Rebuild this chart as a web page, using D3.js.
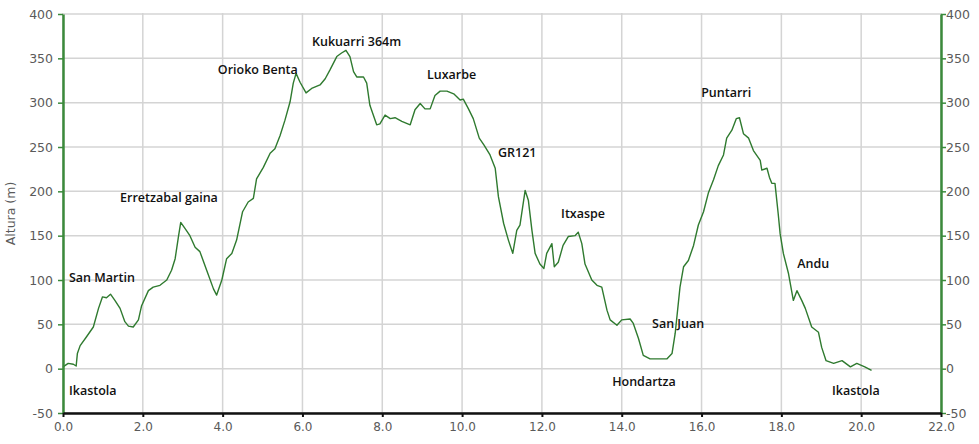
<!DOCTYPE html>
<html>
<head>
<meta charset="utf-8">
<script src="https://cdn.jsdelivr.net/npm/d3@7/dist/d3.min.js"></script>
<style>
  html, body { margin: 0; padding: 0; background: #fff; }
  svg { display: block; }
</style>
</head>
<body>
<svg id="chart" width="979" height="444"></svg>
<script>
// ---- Data ----
const distanceKm = [0, 0.13, 0.26, 0.33, 0.36, 0.43, 0.59, 0.76, 0.89, 0.99, 1.09, 1.19, 1.30, 1.43, 1.55, 1.64, 1.76, 1.89, 1.97, 2.14, 2.26, 2.43, 2.60, 2.72, 2.81, 2.89, 2.95, 3.06, 3.18, 3.31, 3.43, 3.60, 3.77, 3.85, 3.98, 4.10, 4.23, 4.35, 4.50, 4.64, 4.77, 4.85, 5.02, 5.19, 5.31, 5.44, 5.56, 5.69, 5.77, 5.84, 5.94, 6.09, 6.23, 6.44, 6.57, 6.69, 6.86, 6.98, 7.09, 7.19, 7.28, 7.36, 7.53, 7.61, 7.69, 7.86, 7.94, 8.07, 8.20, 8.32, 8.49, 8.70, 8.82, 8.95, 9.07, 9.20, 9.32, 9.45, 9.62, 9.79, 9.95, 10.03, 10.16, 10.28, 10.43, 10.55, 10.70, 10.83, 10.91, 11.04, 11.16, 11.27, 11.37, 11.45, 11.58, 11.66, 11.75, 11.83, 11.95, 12.05, 12.12, 12.25, 12.31, 12.41, 12.53, 12.66, 12.83, 12.91, 13.00, 13.08, 13.25, 13.38, 13.50, 13.63, 13.71, 13.88, 14.00, 14.21, 14.29, 14.42, 14.54, 14.71, 15.13, 15.26, 15.34, 15.46, 15.55, 15.67, 15.80, 15.92, 16.05, 16.17, 16.30, 16.42, 16.55, 16.63, 16.76, 16.87, 16.95, 17.05, 17.18, 17.30, 17.47, 17.51, 17.64, 17.70, 17.76, 17.84, 17.92, 17.97, 18.05, 18.18, 18.30, 18.39, 18.51, 18.60, 18.76, 18.93, 19.01, 19.12, 19.31, 19.52, 19.73, 19.89, 20.09, 20.26];
const altitudeM = [2, 6, 5, 3, 17, 26, 36, 47, 68, 81, 80, 84, 77, 68, 53, 48, 47, 55, 71, 88, 92, 94, 100, 111, 124, 148, 165, 158, 150, 137, 132, 111, 90, 83, 100, 124, 130, 145, 177, 188, 192, 214, 227, 243, 248, 263, 280, 301, 322, 333, 323, 311, 316, 320, 327, 337, 352, 356, 359, 352, 335, 329, 329, 322, 297, 275, 276, 286, 282, 283, 279, 275, 292, 299, 293, 293, 308, 313, 313, 310, 303, 304, 293, 282, 260, 252, 241, 226, 194, 164, 145, 130, 156, 162, 201, 190, 156, 130, 118, 113, 130, 141, 115, 120, 139, 149, 150, 154, 141, 118, 100, 94, 92, 66, 55, 49, 55, 56, 51, 34, 15, 11, 11, 17, 40, 92, 115, 122, 139, 162, 177, 198, 213, 229, 241, 260, 269, 282, 283, 265, 260, 246, 235, 224, 226, 216, 209, 209, 175, 152, 130, 107, 77, 88, 77, 68, 47, 41, 24, 9, 6, 9, 2, 6, 2, -2];

const xTicks = [0, 2, 4, 6, 8, 10, 12, 14, 16, 18, 20, 22];
const yTicks = [-50, 0, 50, 100, 150, 200, 250, 300, 350, 400];

const placeNames = ["Ikastola", "San Martin", "Erretzabal gaina", "Orioko Benta", "Kukuarri 364m", "Luxarbe", "GR121", "Itxaspe", "Hondartza", "San Juan", "Puntarri", "Andu", "Ikastola"];
const placeKm =    [0.15, 0.15, 1.43, 3.88, 6.24, 9.12, 10.90, 12.48, 13.76, 14.76, 15.99, 18.40, 19.27];
const placeAlt =   [-24.5, 103, 193, 337, 369, 332, 244, 175, -15, 51, 311, 119, -24.5];

const yTitle = "Altura (m)";

// ---- Chart ----
const svg = d3.select("#chart");
const mLeft = 63, mRight = 941, mTop = 14, mBottom = 413;

const x = d3.scaleLinear().domain([0, 22]).range([mLeft, mRight]);
const y = d3.scaleLinear().domain([-50, 400]).range([mBottom, mTop]);

const gridColor = "#d4d4d4";
const axisGreen = "#3b8a3b";
const labelColor = "#5a5a5a";
const yFmt = d => String(d);

// grid
svg.append("g").selectAll("line").data(yTicks).join("line")
  .attr("x1", mLeft).attr("x2", mRight)
  .attr("y1", d => y(d)).attr("y2", d => y(d))
  .attr("stroke", gridColor).attr("stroke-width", 1.5);
svg.append("g").selectAll("line").data(xTicks).join("line")
  .attr("x1", d => x(d)).attr("x2", d => x(d))
  .attr("y1", mTop - 1).attr("y2", mBottom)
  .attr("stroke", gridColor).attr("stroke-width", 1.5);

// profile line
const pts = distanceKm.map((d, i) => [d, altitudeM[i]]);
svg.append("path")
  .datum(pts)
  .attr("fill", "none")
  .attr("stroke", "#2f7a2f")
  .attr("stroke-width", 1.4)
  .attr("stroke-linejoin", "round")
  .attr("d", d3.line().x(d => x(d[0])).y(d => y(d[1])));

// axes
const fontAxis = "'DejaVu Sans', Verdana, sans-serif";

const gLeft = svg.append("g").attr("transform", `translate(${mLeft},0)`)
  .call(d3.axisLeft(y).tickValues(yTicks).tickFormat(yFmt).tickSize(5).tickSizeOuter(0).tickPadding(5));
gLeft.select(".domain").attr("stroke", axisGreen).attr("stroke-width", 2.5);
gLeft.selectAll(".tick line").attr("stroke", axisGreen).attr("stroke-width", 1.5);
gLeft.selectAll(".tick text").attr("fill", labelColor).style("font-family", fontAxis).style("font-size", "12.5px");

const gRight = svg.append("g").attr("transform", `translate(${mRight},0)`)
  .call(d3.axisRight(y).tickValues(yTicks).tickFormat(yFmt).tickSize(5).tickSizeOuter(0).tickPadding(0));
gRight.select(".domain").attr("stroke", axisGreen).attr("stroke-width", 2.5);
gRight.selectAll(".tick line").attr("stroke", axisGreen).attr("stroke-width", 1.5);
gRight.selectAll(".tick text").attr("fill", labelColor).style("font-family", fontAxis).style("font-size", "12.5px");

const gBottom = svg.append("g").attr("transform", `translate(0,${mBottom})`)
  .call(d3.axisBottom(x).tickValues(xTicks).tickFormat(d => d.toFixed(1)).tickSize(4).tickSizeOuter(0).tickPadding(5));
gBottom.select(".domain").attr("stroke", "#111").attr("stroke-width", 2.5);
gBottom.selectAll(".tick line").attr("stroke", "#111").attr("stroke-width", 2);
gBottom.selectAll(".tick text").attr("fill", labelColor).style("font-family", fontAxis).style("font-size", "12px");

// y title
svg.append("text")
  .attr("transform", `translate(11,${(mTop + mBottom) / 2}) rotate(-90)`)
  .attr("text-anchor", "middle")
  .attr("dominant-baseline", "middle")
  .attr("fill", labelColor)
  .style("font-family", fontAxis)
  .style("font-size", "12.5px")
  .text(yTitle);

// place annotations
svg.append("g").selectAll("text").data(placeNames).join("text")
  .attr("x", (d, i) => x(placeKm[i]))
  .attr("y", (d, i) => y(placeAlt[i]))
  .attr("dy", "0.35em")
  .attr("fill", "#111")
  .style("font-family", "'Open Sans', sans-serif")
  .style("font-weight", 600)
  .style("font-size", "12.5px")
  .text(d => d);
</script>
</body>
</html>
